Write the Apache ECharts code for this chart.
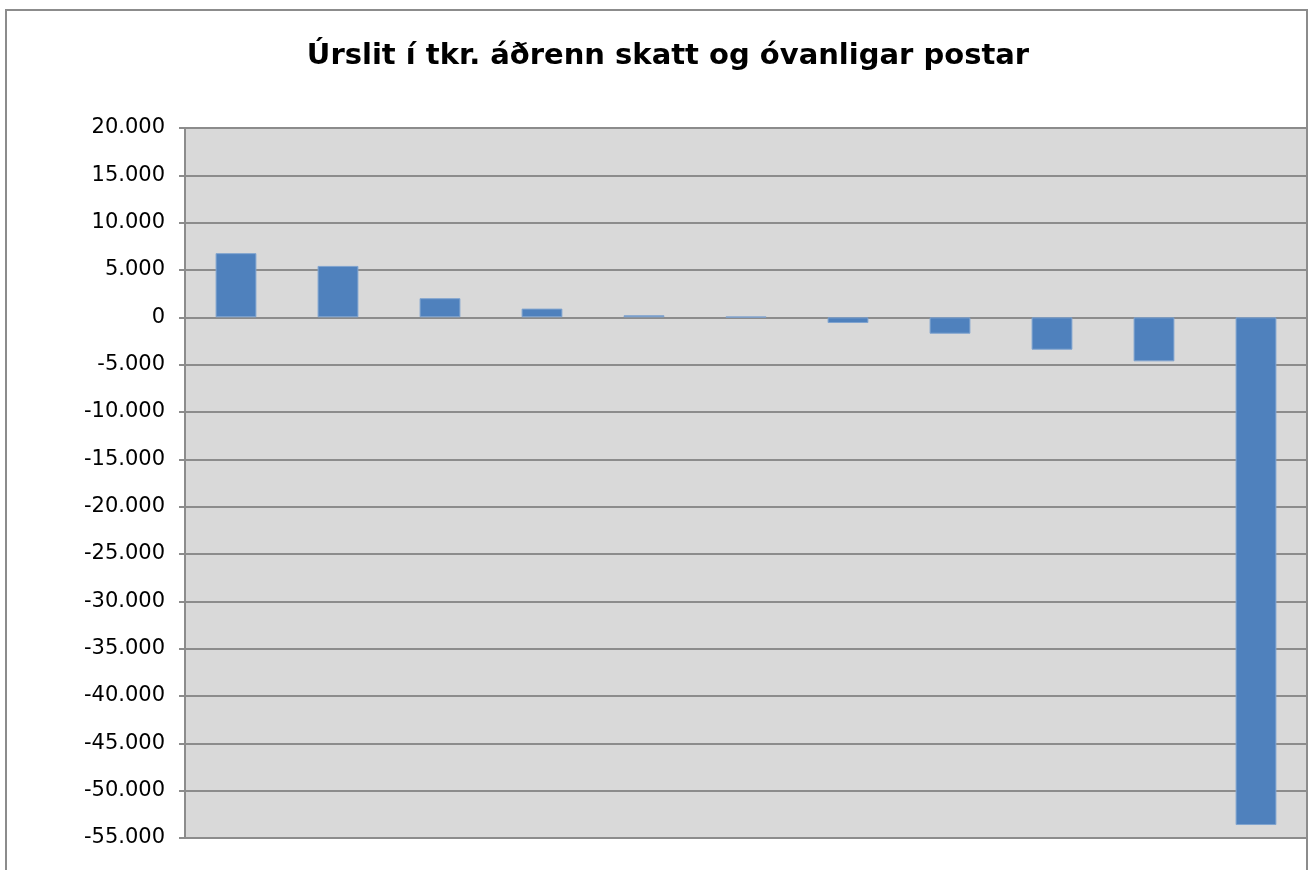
<!DOCTYPE html>
<html><head><meta charset="utf-8">
<script src="https://cdn.jsdelivr.net/npm/echarts@6/dist/echarts.min.js"></script>
<style>html,body{margin:0;padding:0;background:#fff}#c{width:1309px;height:870px}</style>
</head><body><div id="c"></div>
<script>
var title = 'Úrslit í tkr. áðrenn skatt og óvanligar postar';
var categories = ['1','2','3','4','5','6','7','8','9','10','11'];
var values = [6780, 5430, 2020, 920, 220, 60, -600, -1730, -3420, -4650, -53630];
var yMin = -55000, yMax = 20000, yStep = 5000;

function fmt(v){
  var s = Math.abs(v).toString().replace(/\B(?=(\d{3})+(?!\d))/g, '.');
  return (v < 0 ? '-' : '') + s;
}
var chart = echarts.init(document.getElementById('c'), null, {renderer:'canvas'});
chart.setOption({
  backgroundColor:'#ffffff',
  animation:false,
  title:{text:title, left:663, textAlign:'center', top:37,
    textStyle:{fontFamily:'DejaVu Sans', fontWeight:'bold', fontSize:29, color:'#000'}},
  graphic:[{type:'rect', shape:{x:6, y:10, width:1301, height:880},
    style:{fill:'none', stroke:'#8c8c8c', lineWidth:2}, z:100}],
  grid:{left:185, right:2, top:128, bottom:32, show:true, backgroundColor:'#d9d9d9', borderWidth:0},
  xAxis:{type:'category', data:categories, axisLabel:{show:false}, axisTick:{show:false},
    axisLine:{show:false}},
  yAxis:{type:'value', min:yMin, max:yMax, interval:yStep,
    axisLine:{show:true, lineStyle:{color:'#8c8c8c', width:2}},
    axisTick:{show:true, length:6, lineStyle:{color:'#8c8c8c', width:2}},
    splitLine:{show:true, lineStyle:{color:'#8c8c8c', width:2}},
    axisLabel:{formatter:fmt, fontFamily:'DejaVu Sans', fontSize:21, color:'#000', margin:20}},
  series:[{type:'bar', data:values, barWidth:'40%',
    itemStyle:{color:'#4f81bd', borderColor:'#7fa3cf', borderWidth:1}}]
});
</script></body></html>
